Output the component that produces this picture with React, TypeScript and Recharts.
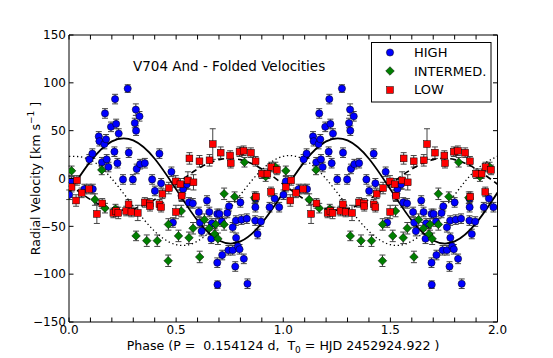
import React from 'react';
import { ComposedChart, Scatter, Line, XAxis, YAxis, ErrorBar } from 'recharts';

// [phase, radial velocity, error] for phase 0..1 (folded twice in the plot)
const HIGH: [number, number, number][] = [
  [0.001, -17, 5], [0.012, -3, 5], [0.072, -11, 5], [0.095, 20, 5], [0.109, 26, 5],
  [0.111, -11, 5], [0.139, 44, 5], [0.142, 39, 5], [0.154, 17, 5], [0.165, 36, 5],
  [0.168, 68, 5], [0.173, 41, 5], [0.176, 20, 5], [0.184, 12, 5], [0.196, 54, 5],
  [0.212, 28, 5], [0.215, 83, 5], [0.22, 57, 5], [0.226, 16, 5], [0.232, 47, 5],
  [0.252, -1, 5], [0.274, 94, 4], [0.279, 27, 5], [0.298, -1, 5], [0.307, 58, 5],
  [0.312, 72, 6], [0.313, 50, 5], [0.316, 10, 5], [0.329, 65, 5], [0.332, 15, 5],
  [0.354, 16, 5], [0.388, -1, 5], [0.401, -13, 5], [0.422, 26, 5], [0.43, -5, 5],
  [0.478, 7, 5], [0.485, -46, 5], [0.525, -18, 5], [0.533, -11, 5], [0.55, -6, 5],
  [0.56, -25, 5], [0.578, -26, 5], [0.606, -35, 5], [0.611, -46, 5], [0.619, -55, 5],
  [0.644, -23, 5], [0.655, -35, 5], [0.667, -47, 5], [0.664, -63, 5], [0.692, -37, 5],
  [0.702, -37, 5], [0.713, -45, 5], [0.739, -36, 5], [0.747, -29, 5], [0.764, -51, 5],
  [0.779, -44, 5], [0.78, -62, 5], [0.8, -25, 5], [0.805, -43, 5], [0.83, -42, 5],
  [0.869, -21, 5], [0.87, -30, 5], [0.869, -44, 5], [0.896, -45, 5], [0.88, -58, 5],
  [0.936, -30, 5], [0.96, -21, 5], [0.981, -30, 5], [0.692, -88, 5], [0.715, -80, 5],
  [0.744, -75, 5], [0.764, -75, 5], [0.788, -71, 5], [0.796, -74, 5], [0.776, -92, 5],
  [0.816, -84, 5], [0.693, -111, 4], [0.833, -110, 5],
];

const INTERMED: [number, number, number][] = [
  [0.012, 8, 5], [0.121, -22, 6], [0.153, 9, 5], [0.168, -31, 5], [0.217, -32, 5],
  [0.313, -60, 5], [0.363, -65, 6], [0.412, -65, 6], [0.463, -86, 6], [0.464, -48, 6],
  [0.511, -60, 6], [0.524, -34, 6], [0.56, -62, 6], [0.579, -52, 6], [0.61, -82, 6],
  [0.632, -43, 6], [0.655, -52, 6], [0.68, -58, 6], [0.695, -63, 6], [0.685, -48, 6],
  [0.724, -16, 6], [0.724, -48, 6], [0.773, -19, 5], [0.819, 17, 5], [0.866, -20, 6],
  [0.918, 2, 5], [0.963, 12, 5],
];

const LOW: [number, number, number][] = [
  [0.012, -9, 5], [0.037, -2, 5], [0.033, -23, 6], [0.059, -15, 5], [0.093, -11, 5],
  [0.13, -37, 10], [0.155, -26, 5], [0.207, -36, 5], [0.22, -34, 5], [0.23, -36, 6],
  [0.267, -34, 5], [0.278, -27, 5], [0.291, -35, 5], [0.321, -36, 8], [0.354, -25, 5],
  [0.377, -26, 5], [0.378, -29, 5], [0.422, -27, 5], [0.43, -30, 5], [0.436, -16, 5],
  [0.466, -10, 6], [0.498, -3, 6], [0.499, -35, 7], [0.52, -6, 6], [0.526, -18, 6],
  [0.555, -2, 9], [0.581, -4, 8], [0.562, 21, 6], [0.609, 18, 6], [0.656, 19, 6],
  [0.671, 36, 16], [0.708, 27, 6], [0.752, 24, 5], [0.755, 16, 5], [0.796, 28, 5],
  [0.815, 29, 5], [0.849, 27, 5], [0.871, 18, 5], [0.873, -19, 5], [0.9, 5, 5],
  [0.926, 5, 5], [0.944, 12, 5], [0.943, -14, 5], [0.97, 9, 5],
];

// model curves read at phases 0.0 .. 0.9 (periodic)
const CURVE_PHASES = [0, 0.1, 0.2, 0.3, 0.4, 0.5, 0.6, 0.7, 0.8, 0.9];
const SOLID_CURVE = [-14.7, 17.9, 38.8, 39.8, 20.7, -11.3, -43.9, -64.8, -65.8, -46.7];
const DOTTED_CURVE = [23.2, 19.5, -0.3, -28.9, -55.2, -69.2, -65.5, -45.7, -17.1, 9.2];
const DASHED_CURVE = [-6, -21.9, -31.7, -31.7, -21.9, -6, 9.9, 19.7, 19.7, 9.9];

const X_TICKS = [0, 0.1, 0.2, 0.3, 0.4, 0.5, 0.6, 0.7, 0.8, 0.9, 1, 1.1, 1.2, 1.3, 1.4, 1.5, 1.6, 1.7, 1.8, 1.9, 2];
const Y_TICKS = [-150, -100, -50, 0, 50, 100, 150];
const LEGEND_ITEMS = ['HIGH', 'INTERMED.', 'LOW'];

const FONT = 'DejaVu Sans, sans-serif';

const fold = (pts: [number, number, number][]) => {
  const out: { x: number; y: number; e: number }[] = [];
  for (const k of [0, 1]) for (const p of pts) out.push({ x: p[0] + k, y: p[1], e: p[2] });
  return out;
};

const foldCurve = (vals: number[]) => {
  const out: { x: number; y: number }[] = [];
  for (const k of [0, 1]) CURVE_PHASES.forEach((ph, i) => out.push({ x: +(ph + k).toFixed(2), y: vals[i] }));
  out.push({ x: 2, y: vals[0] });
  return out;
};

const highData = fold(HIGH);
const interData = fold(INTERMED);
const lowData = fold(LOW);
const solidData = foldCurve(SOLID_CURVE);
const dottedData = foldCurve(DOTTED_CURVE);
const dashedData = foldCurve(DASHED_CURVE);

const TL = 4.5;

const BottomTick = (p: any) => {
  const v = p.payload.value;
  const show = Math.abs(v * 2 - Math.round(v * 2)) < 1e-6;
  return (
    <g>
      <line x1={p.x} y1={p.y} x2={p.x} y2={p.y - TL} stroke="#000" strokeWidth={1} />
      {show && (
        <text x={p.x} y={p.y + 11.5} textAnchor="middle" fontFamily={FONT} fontSize={12} fill="#000">
          {v.toFixed(1)}
        </text>
      )}
    </g>
  );
};
const TopTick = (p: any) => (
  <line x1={p.x} y1={p.y} x2={p.x} y2={p.y + TL} stroke="#000" strokeWidth={1} />
);
const LeftTick = (p: any) => {
  const v = p.payload.value;
  return (
    <g>
      <line x1={p.x} y1={p.y} x2={p.x + TL} y2={p.y} stroke="#000" strokeWidth={1} />
      <text x={p.x - 3} y={p.y + 4.3} textAnchor="end" fontFamily={FONT} fontSize={12} fill="#000">
        {v < 0 ? '\u2212' + Math.abs(v) : String(v)}
      </text>
    </g>
  );
};
const RightTick = (p: any) => (
  <line x1={p.x} y1={p.y} x2={p.x - TL} y2={p.y} stroke="#000" strokeWidth={1} />
);

const Circle = (p: any) => <circle cx={p.cx} cy={p.cy} r={3.6} fill="#0000ff" stroke="#000" strokeWidth={0.5} />;
const Diamond = (p: any) => (
  <polygon
    points={`${p.cx},${p.cy - 4.3} ${p.cx + 4.3},${p.cy} ${p.cx},${p.cy + 4.3} ${p.cx - 4.3},${p.cy}`}
    fill="#007f00" stroke="#000" strokeWidth={0.5}
  />
);
const Square = (p: any) => (
  <rect x={p.cx - 3.4} y={p.cy - 3.4} width={6.8} height={6.8} fill="#ff0000" stroke="#000" strokeWidth={0.5} />
);

const NB = '\u00a0';

export default function App() {
  return (
    <div style={{ position: 'absolute', left: 0, top: 0, width: 553, height: 358, background: '#fff' }}>
      <ComposedChart width={553} height={358} margin={{ top: 34, right: 54.5, bottom: 35, left: 68 }}>
        <XAxis xAxisId="b" type="number" dataKey="x" domain={[0, 2]} ticks={X_TICKS} interval={0}
          orientation="bottom" height={1} tickSize={0} tickMargin={0} tickLine={false}
          axisLine={{ stroke: '#000', strokeWidth: 1 }} tick={BottomTick} allowDataOverflow />
        <XAxis xAxisId="t" type="number" dataKey="x" domain={[0, 2]} ticks={X_TICKS} interval={0}
          orientation="top" height={1} tickSize={0} tickMargin={0} tickLine={false}
          axisLine={{ stroke: '#000', strokeWidth: 1 }} tick={TopTick} allowDataOverflow />
        <YAxis yAxisId="l" type="number" dataKey="y" domain={[-150, 150]} ticks={Y_TICKS} interval={0}
          orientation="left" width={1} tickSize={0} tickMargin={0} tickLine={false}
          axisLine={{ stroke: '#000', strokeWidth: 1 }} tick={LeftTick} allowDataOverflow />
        <YAxis yAxisId="r" type="number" dataKey="y" domain={[-150, 150]} ticks={Y_TICKS} interval={0}
          orientation="right" width={1} tickSize={0} tickMargin={0} tickLine={false}
          axisLine={{ stroke: '#000', strokeWidth: 1 }} tick={RightTick} allowDataOverflow />

        <Scatter xAxisId="b" yAxisId="l" data={highData} dataKey="y" shape={Circle} isAnimationActive={false}>
          <ErrorBar dataKey="e" direction="y" width={3} stroke="#444" strokeWidth={1} />
        </Scatter>
        <Scatter xAxisId="b" yAxisId="l" data={interData} dataKey="y" shape={Diamond} isAnimationActive={false}>
          <ErrorBar dataKey="e" direction="y" width={3} stroke="#444" strokeWidth={1} />
        </Scatter>
        <Scatter xAxisId="b" yAxisId="l" data={lowData} dataKey="y" shape={Square} isAnimationActive={false}>
          <ErrorBar dataKey="e" direction="y" width={3} stroke="#444" strokeWidth={1} />
        </Scatter>

        <Line xAxisId="b" yAxisId="l" data={solidData} dataKey="y" type="natural" dot={false} activeDot={false}
          stroke="#000" strokeWidth={1.8} isAnimationActive={false} />
        <Line xAxisId="b" yAxisId="l" data={dashedData} dataKey="y" type="natural" dot={false} activeDot={false}
          stroke="#000" strokeWidth={1.6} strokeDasharray="6 4" isAnimationActive={false} />
        <Line xAxisId="b" yAxisId="l" data={dottedData} dataKey="y" type="natural" dot={false} activeDot={false}
          stroke="#000" strokeWidth={1.3} strokeDasharray="1.3 2.7" isAnimationActive={false} />
      </ComposedChart>

      <svg width={553} height={358} style={{ position: 'absolute', left: 0, top: 0, pointerEvents: 'none' }}>
        <text x={133} y={70.5} fontFamily={FONT} fontSize={13.5} fill="#000">V704 And - Folded Velocities</text>
        <text x={283} y={350} textAnchor="middle" fontFamily={FONT} fontSize={12.6} fill="#000">
          {`Phase (P =${NB} 0.154124 d,${NB} T`}<tspan fontSize={9} dy={3}>0</tspan><tspan dy={-3}>{` = HJD 2452924.922 )`}</tspan>
        </text>
        <text transform="translate(40,178.5) rotate(-90)" textAnchor="middle" fontFamily={FONT} fontSize={12.6} fill="#000">
          Radial Velocity [km s<tspan fontSize={9} dy={-6}>{'\u22121'}</tspan><tspan dy={6}> ]</tspan>
        </text>

        <rect x={371.5} y={42.5} width={119.5} height={59.5} fill="#fff" stroke="#000" strokeWidth={1} />
        <circle cx={390} cy={52.5} r={3.6} fill="#0000ff" stroke="#000" strokeWidth={0.5} />
        <polygon points="390,66.7 394.3,71 390,75.3 385.7,71" fill="#007f00" stroke="#000" strokeWidth={0.5} />
        <rect x={386.6} y={86.6} width={6.8} height={6.8} fill="#ff0000" stroke="#000" strokeWidth={0.5} />
        {LEGEND_ITEMS.map((t, i) => (
          <text key={t} x={414} y={57 + i * 18.7} fontFamily={FONT} fontSize={13} fill="#000">{t}</text>
        ))}
      </svg>
    </div>
  );
}
